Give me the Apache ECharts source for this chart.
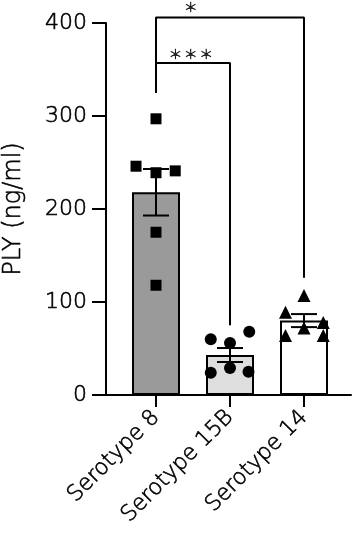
<!DOCTYPE html>
<html>
<head>
<meta charset="utf-8">
<script src="https://cdn.jsdelivr.net/npm/echarts@6/dist/echarts.min.js"></script>
<style>
  html, body { margin: 0; padding: 0; background: #fff; }
  #chart { width: 355px; height: 537px; }
</style>
</head>
<body>
<div id="chart"></div>
<script>
// groups and summary values
var categories = ['Serotype 8', 'Serotype 15B', 'Serotype 14']
var means = [218, 43, 80]
var sems = [25, 7.5, 7]
var barColors = ['#9a9a9a', '#dedede', '#ffffff']

// individual samples per group
var s8 = [297, 246, 239, 241, 175, 118]
var s15B = [60, 56, 68, 24, 29, 25]
var s14 = [107, 89, 64, 72, 78, 64]
// horizontal spread of the dots, in category units
var jit8 = [0, -0.27, 0, 0.26, 0, 0]
var jit15B = [-0.26, 0, 0.26, -0.26, 0, 0.25]
var jit14 = [0, -0.25, -0.25, 0, 0.26, 0.26]

// significance brackets: [from, to, top, leftFoot, rightFoot, label, labelY]
var brackets = [
  [0, 1, 357, 325, 75, '*\u2009*\u2009*', 361],
  [0, 2, 406, 325, 126, '*', 412]
]

var yTicks = { min: 0, max: 400, interval: 100 }

// thin black text, a touch heavier than the extra light face
var TXT = {
  color: '#000',
  fontFamily: 'DejaVu Sans',
  fontWeight: 200,
  textBorderColor: '#000',
  textBorderWidth: 0.6
}
var chart = echarts.init(document.getElementById('chart'))

function dots(vals, jit, idx) {
  return vals.map(function(v, i) { return [idx + jit[i], v] })
}

var bracketSeries = brackets.map(function(b) {
  return {
    type: 'line',
    xAxisIndex: 2,
    yAxisIndex: 1,
    clip: false,
    symbol: 'none',
    silent: true,
    z: 5,
    lineStyle: { color: '#000', width: 2 },
    data: [[b[0], b[3]], [b[0], b[2]], [b[1], b[2]], [b[1], b[4]]]
  }
})

chart.setOption({
  animation: false,
  backgroundColor: '#fff',
  grid: [
    { left: 106, right: 4, top: 23, bottom: 142, outerBoundsMode: 'none' },
    { left: 119, width: 222, top: 23, bottom: 142, outerBoundsMode: 'none' }
  ],
  xAxis: [
    {
      gridIndex: 0,
      type: 'value',
      min: 0,
      max: 1,
      axisLine: { show: true, lineStyle: { color: '#000', width: 2 } },
      axisTick: { show: false },
      axisLabel: { show: false },
      splitLine: { show: false }
    },
    {
      gridIndex: 1,
      type: 'category',
      data: categories,
      axisLine: { show: false },
      axisTick: { show: true, alignWithLabel: true, length: 12, lineStyle: { color: '#000', width: 2 } },
      axisLabel: Object.assign({ rotate: 45, margin: 19, fontSize: 22 }, TXT),
      splitLine: { show: false }
    },
    {
      gridIndex: 1,
      type: 'value',
      min: -0.5,
      max: 2.5,
      show: false
    }
  ],
  yAxis: [
    {
      gridIndex: 0,
      type: 'value',
      min: yTicks.min,
      max: yTicks.max,
      interval: yTicks.interval,
      name: 'PLY (ng/ml)',
      nameLocation: 'middle',
      nameGap: 80,
      nameRotate: 90,
      nameTextStyle: Object.assign({ fontSize: 24 }, TXT),
      axisLine: { show: true, lineStyle: { color: '#000', width: 2 } },
      axisTick: { show: true, length: 14, lineStyle: { color: '#000', width: 2 } },
      axisLabel: Object.assign({ margin: 19, fontSize: 22 }, TXT),
      splitLine: { show: false }
    },
    {
      gridIndex: 1,
      type: 'value',
      min: yTicks.min,
      max: yTicks.max,
      show: false
    }
  ],
  series: [
    {
      type: 'bar',
      xAxisIndex: 1,
      yAxisIndex: 1,
      barWidth: 48,
      z: 2,
      data: means.map(function(m, i) {
        return { value: m, itemStyle: { color: barColors[i], borderColor: '#000', borderWidth: 2 } }
      })
    },
    {
      type: 'custom',
      xAxisIndex: 1,
      yAxisIndex: 1,
      z: 3,
      data: means.map(function(m, i) { return [i, m - sems[i], m + sems[i]] }),
      renderItem: function(params, api) {
        var lo = api.coord([api.value(0), api.value(1)])
        var hi = api.coord([api.value(0), api.value(2)])
        var w = 13
        var st = { stroke: '#000', lineWidth: 2 }
        return {
          type: 'group',
          children: [
            { type: 'line', shape: { x1: lo[0], y1: lo[1], x2: hi[0], y2: hi[1] }, style: st },
            { type: 'line', shape: { x1: lo[0] - w, y1: lo[1], x2: lo[0] + w, y2: lo[1] }, style: st },
            { type: 'line', shape: { x1: hi[0] - w, y1: hi[1], x2: hi[0] + w, y2: hi[1] }, style: st }
          ]
        }
      }
    },
    {
      type: 'scatter',
      xAxisIndex: 2,
      yAxisIndex: 1,
      symbol: 'rect',
      symbolSize: 11,
      z: 4,
      itemStyle: { color: '#000', opacity: 1 },
      data: dots(s8, jit8, 0)
    },
    {
      type: 'scatter',
      xAxisIndex: 2,
      yAxisIndex: 1,
      symbol: 'circle',
      symbolSize: 12,
      z: 4,
      itemStyle: { color: '#000', opacity: 1 },
      data: dots(s15B, jit15B, 1)
    },
    {
      type: 'scatter',
      xAxisIndex: 2,
      yAxisIndex: 1,
      symbol: 'triangle',
      symbolSize: 13,
      z: 4,
      itemStyle: { color: '#000', opacity: 1 },
      data: dots(s14, jit14, 2)
    },
    {
      type: 'scatter',
      xAxisIndex: 2,
      yAxisIndex: 1,
      symbolSize: 0,
      clip: false,
      silent: true,
      z: 6,
      label: Object.assign({
        show: true,
        position: 'inside',
        fontSize: 22,
        formatter: function(p) { return p.data[2] }
      }, TXT),
      data: brackets.map(function(b) { return [0.47, b[6], b[5]] })
    }
  ].concat(bracketSeries)
})
</script>
</body>
</html>
